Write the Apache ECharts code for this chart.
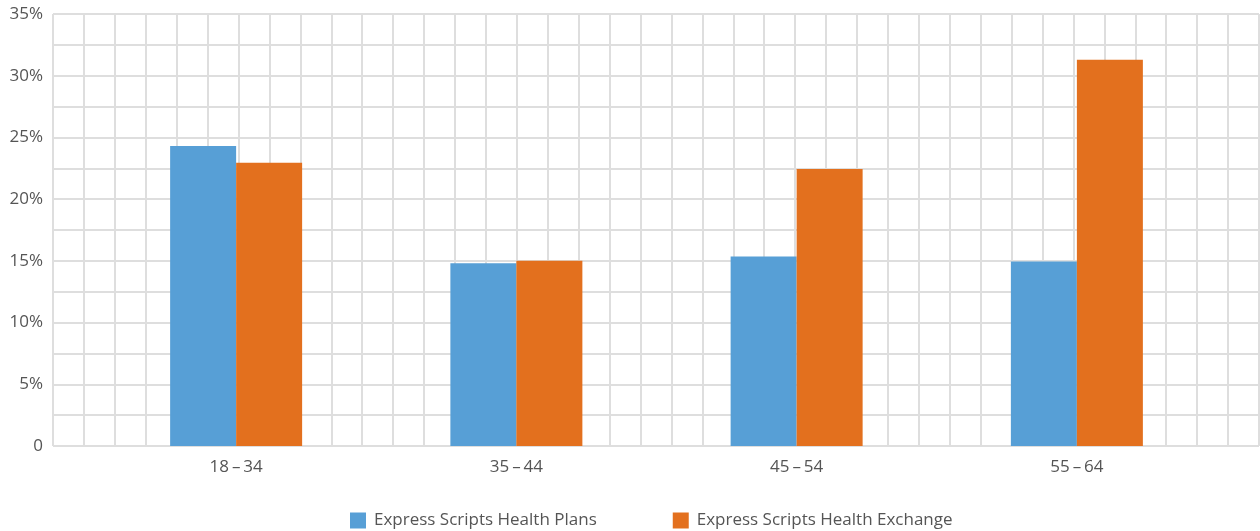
<!DOCTYPE html>
<html>
<head>
<meta charset="utf-8">
<script src="https://cdn.jsdelivr.net/npm/echarts@6/dist/echarts.min.js"></script>
<style>html,body{margin:0;padding:0;background:#fff}#c{width:1260px;height:531px}</style>
</head>
<body>
<div id="c"></div>
<script>
const categories = ['18\u2009\u2013\u200934', '35\u2009\u2013\u200944', '45\u2009\u2013\u200954', '55\u2009\u2013\u200964'];
const healthPlans = [24.3, 14.8, 15.35, 14.95];
const healthExchange = [22.95, 15.0, 22.45, 31.3];
const seriesNames = ['Express Scripts Health Plans', 'Express Scripts Health Exchange'];
const yTicks = [0, 5, 10, 15, 20, 25, 30, 35];

const FONT = '"Open Sans", "Noto Sans", sans-serif';
const TXT = '#555555';
const GRIDC = '#dedede';

const chart = echarts.init(document.getElementById('c'));
chart.setOption({
  animation: false,
  textStyle: { fontFamily: FONT },
  grid: [
    { left: 53, top: 14, width: 1206, height: 432, containLabel: false },
    { left: 96, top: 14, width: 1121, height: 432, containLabel: false }
  ],
  xAxis: [
    { type: 'value', gridIndex: 0, min: 0, max: 39, interval: 1,
      axisLine: { show: false }, axisTick: { show: false }, axisLabel: { show: false },
      splitLine: { show: true, showMinLine: true, showMaxLine: true, lineStyle: { color: GRIDC, width: 2 } } },
    { type: 'category', gridIndex: 1, data: categories,
      axisLine: { show: false }, axisTick: { show: false },
      axisLabel: { color: TXT, fontSize: 17, margin: 13, fontFamily: FONT },
      splitLine: { show: false } }
  ],
  yAxis: [
    { type: 'value', gridIndex: 0, min: 0, max: 35, interval: 2.5,
      axisLine: { show: false }, axisTick: { show: false },
      axisLabel: { color: TXT, fontSize: 17, margin: 10, fontFamily: FONT,
        formatter: v => yTicks.indexOf(v) >= 0 ? (v === 0 ? '0' : v + '%') : '' },
      splitLine: { show: true, showMinLine: true, showMaxLine: true, lineStyle: { color: GRIDC, width: 2 } } },
    { type: 'value', gridIndex: 1, min: 0, max: 35, show: false, splitLine: { show: false } }
  ],
  legend: {
    left: 345, top: 507, itemWidth: 16, itemHeight: 16, itemGap: 76, icon: 'rect',
    textStyle: { color: TXT, fontSize: 17, fontFamily: FONT, padding: [0, 0, 0, 3] },
    data: seriesNames
  },
  series: [
    { name: seriesNames[0], type: 'bar', xAxisIndex: 1, yAxisIndex: 1, data: healthPlans,
      barWidth: 66, barGap: '0%', itemStyle: { color: '#579fd6' } },
    { name: seriesNames[1], type: 'bar', xAxisIndex: 1, yAxisIndex: 1, data: healthExchange,
      barWidth: 66, barGap: '0%', itemStyle: { color: '#e3701e' } }
  ]
});
</script>
</body>
</html>
